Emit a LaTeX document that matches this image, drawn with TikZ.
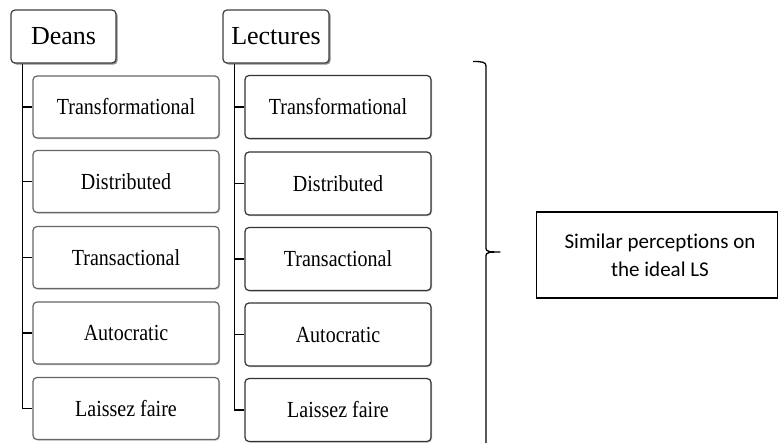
\documentclass[tikz,border=0pt]{standalone}
\usepackage{fontspec}
\setmainfont{Liberation Serif}
\newfontfamily\calib[Ligatures={NoCommon,NoDiscretionary}]{Carlito}
\usetikzlibrary{shadows}
\newcommand{\narrowtxt}[1]{\scalebox{0.87}[1]{#1}}
\tikzset{
  headbox/.style={draw=black!75, line width=1.2pt, rounded corners=4pt, fill=white,
    drop shadow={shadow xshift=1.6pt, shadow yshift=-1.6pt, fill=black!45, opacity=1},
    inner sep=0pt, minimum width=105pt, minimum height=53pt,
    font=\fontsize{26}{30}\selectfont},
  itembox/.style={draw=black!60, line width=1.2pt, rounded corners=4pt, fill=white,
    drop shadow={shadow xshift=1pt, shadow yshift=-1pt, fill=black!25, opacity=1},
    inner sep=0pt, minimum width=186pt, minimum height=62pt,
    font=\fontsize{23}{27}\selectfont},
  itemboxr/.style={itembox, draw=black!80},
  treeline/.style={line width=1.3pt, black},
  resultbox/.style={draw=black, line width=1.2pt, inner sep=0pt,
    minimum width=241pt, minimum height=86pt, align=center,
    font=\calib\fontsize{21}{28}\selectfont}
}
\begin{document}
\begin{tikzpicture}[x=1pt,y=-1pt]
\useasboundingbox[fill=white] (0,0) rectangle (779,442);

% Deans column
\node[headbox] (deans) at (63.5,36.5) {Deans};
\node[itembox] (d1) at (126,107) {\narrowtxt{Transformational}};
\node[itembox] (d2) at (126,181.5) {\narrowtxt{Distributed}};
\node[itembox] (d3) at (126,257.5) {\narrowtxt{Transactional}};
\node[itembox] (d4) at (126,333) {\narrowtxt{Autocratic}};
\node[itembox] (d5) at (126,408.5) {\narrowtxt{Laissez faire}};
\coordinate (dtop) at ([xshift=12pt]deans.south west);
\draw[treeline] (dtop) |- (d5.west);
\foreach \i in {1,...,4} \draw[treeline] (d\i.west) -- (dtop |- d\i.west);

% Lectures column
\node[headbox, minimum width=106pt] (lect) at (276,36.5) {Lectures};
\node[itemboxr, minimum height=63pt] (l1) at (338,107) {\narrowtxt{Transformational}};
\node[itemboxr, minimum height=63pt] (l2) at (338,183.5) {\narrowtxt{Distributed}};
\node[itemboxr, minimum height=63pt] (l3) at (338,259) {\narrowtxt{Transactional}};
\node[itemboxr, minimum height=63pt] (l4) at (338,334.5) {\narrowtxt{Autocratic}};
\node[itemboxr, minimum height=63pt] (l5) at (338,410) {\narrowtxt{Laissez faire}};
\coordinate (ltop) at ([xshift=12pt]lect.south west);
\draw[treeline] (ltop) |- (l5.west);
\foreach \i in {1,...,4} \draw[treeline] (l\i.west) -- (ltop |- l\i.west);

% Brace
\draw[line width=1.3pt, line join=round]
  (473,61.5) .. controls (482,61.5) and (486,62) .. (486,66)
  -- (486,248.5) .. controls (486,251.5) and (489,252) .. (500,252)
  .. controls (489,252) and (486,252.5) .. (486,255.5)
  -- (486,450);

% Result box
\node[resultbox] (res) at (657,255) {\hspace*{6pt}Similar perceptions on\\\hspace*{6pt}the ideal LS};
\end{tikzpicture}
\end{document}
